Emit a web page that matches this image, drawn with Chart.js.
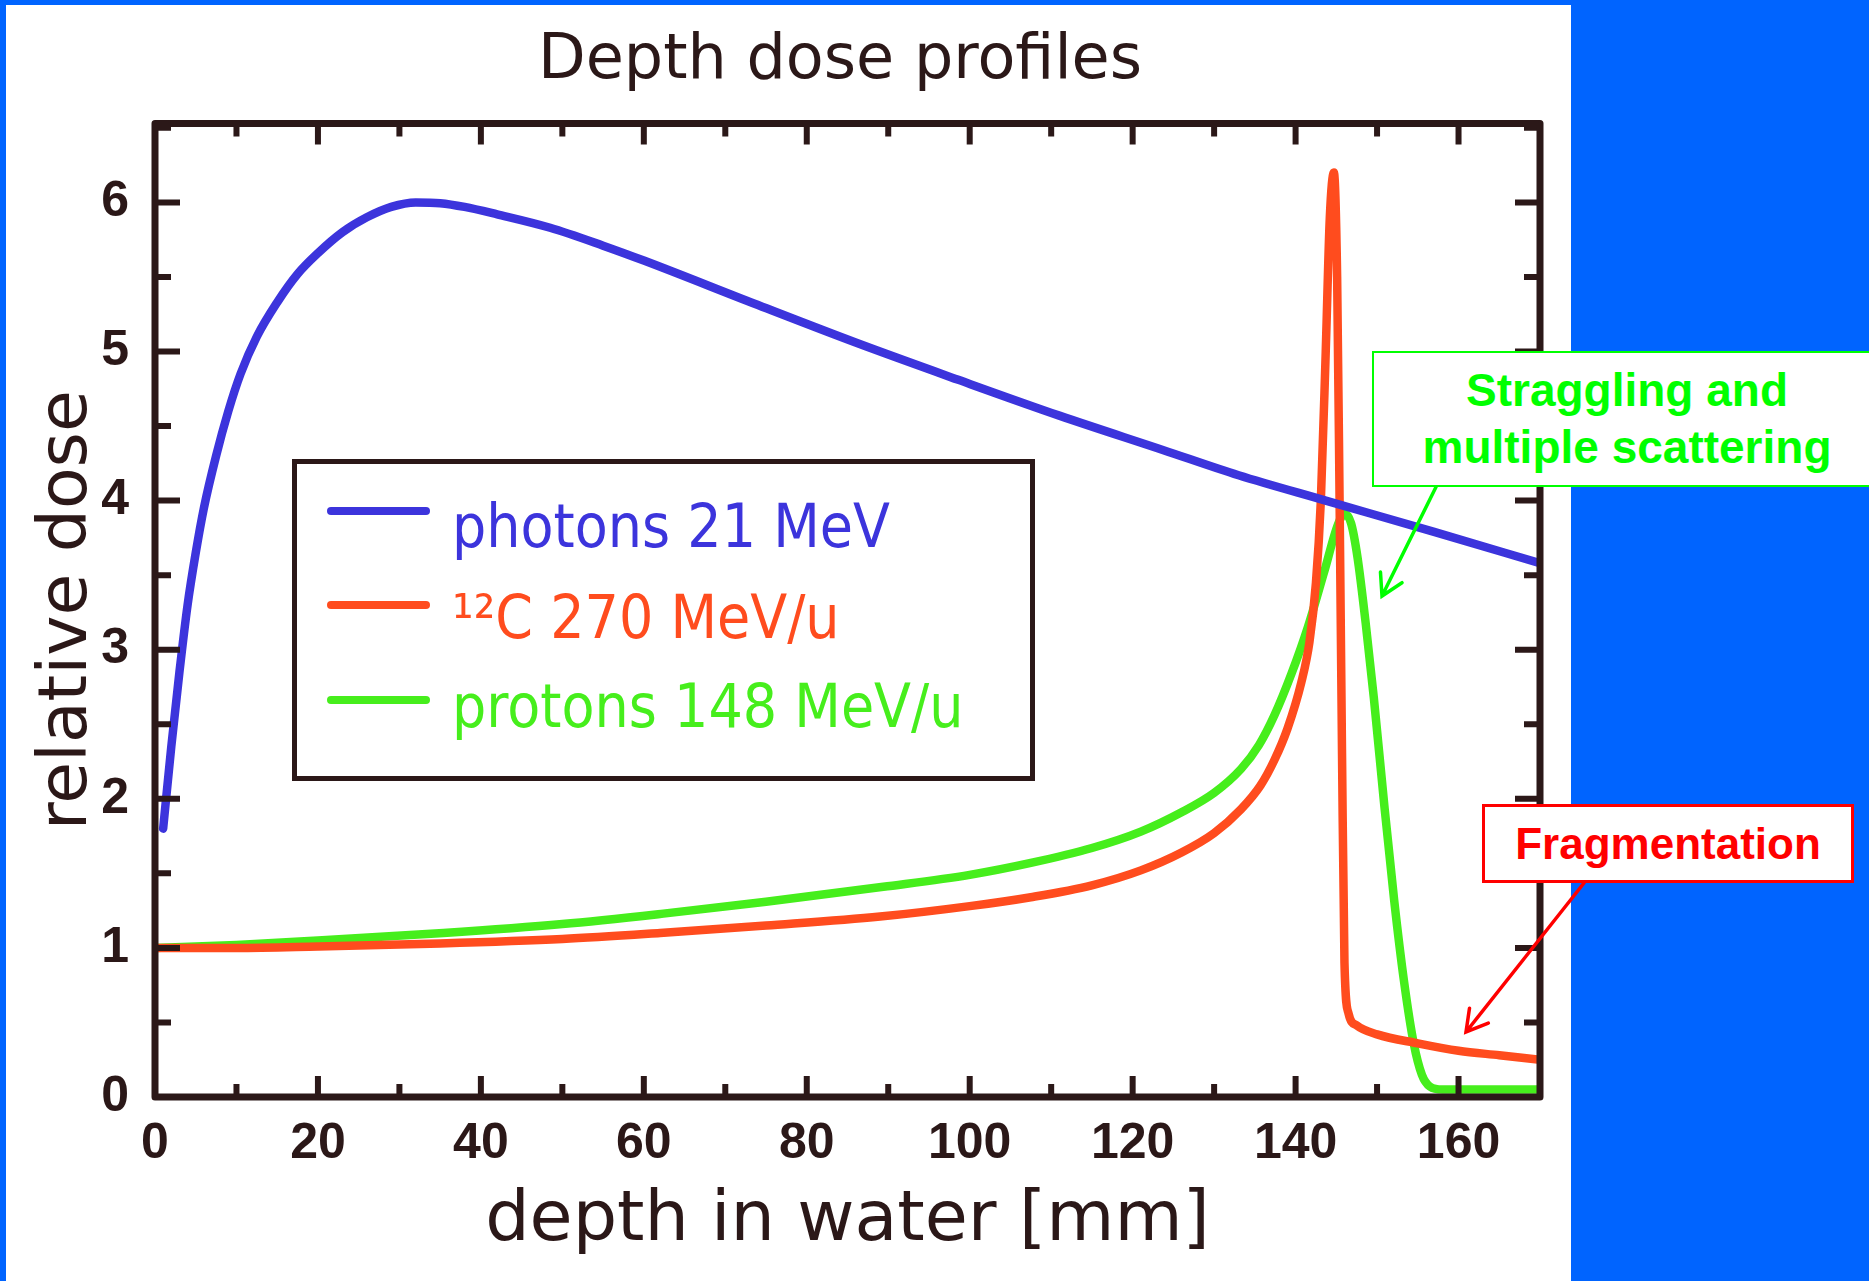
<!DOCTYPE html>
<html>
<head>
<meta charset="utf-8">
<script src="https://cdn.jsdelivr.net/npm/chart.js@4.4.1/dist/chart.umd.min.js"></script>
<style>
  html, body { margin:0; padding:0; width:1869px; height:1281px; overflow:hidden; background:#0064ff; position:relative; font-family:'DejaVu Sans', sans-serif; }
  #panel { position:absolute; left:6px; top:5px; width:1565px; height:1276px; background:#ffffff; overflow:visible; }
  #c { position:absolute; left:0; top:0; }
  #legend { position:absolute; left:292px; top:459px; width:743px; height:322px; box-sizing:border-box; border:5px solid #2b1818; background:#fff; }
  .lgline { position:absolute; height:8px; border-radius:4px; }
  .lgtext { position:absolute; font-family:'DejaVu Sans', sans-serif; font-size:60px; line-height:60px; white-space:nowrap; transform:scaleX(0.9); transform-origin:0 0; }
  .note { position:absolute; box-sizing:border-box; background:#fff; display:flex; flex-direction:column; justify-content:center; align-items:center; font-family:'Liberation Sans', Arial, sans-serif; font-weight:bold; text-align:center; white-space:nowrap; }
  #arrows { position:absolute; left:0; top:0; }
</style>
</head>
<body>
<div id="panel"><canvas id="c" width="1700" height="1276"></canvas></div>
<div id="legend"></div>
<div class="note" id="noteGreen" style="left:1372px; top:351px; width:510px; height:136px; border:2px solid #00ff00; color:#00ff00; font-size:46px; line-height:57px;"><div>Straggling and</div><div>multiple scattering</div></div>
<div class="note" id="noteRed" style="left:1482px; top:804px; width:372px; height:79px; border:3px solid #ff0000; color:#ff0000; font-size:44px; line-height:50px;"><div>Fragmentation</div></div>
<svg id="arrows" width="1869" height="1281"></svg>
<script>
// ---------------- data ----------------
const seriesNames = ['photons 21 MeV', '\u00B9\u00B2C 270 MeV/u', 'protons 148 MeV/u'];
const seriesColors = ['#3c34dc', '#ff4c1e', '#46ee1c'];

const photonDepth = [1, 2, 3, 4, 5, 6, 7.5, 9, 10.5, 12.5, 15, 17.5, 20, 23, 26, 29, 32, 35, 38, 42, 48.5, 55, 60, 73.6, 86, 98.6, 111, 123.7, 133, 143.7, 157, 170];
const photonDose  = [1.8, 2.35, 2.85, 3.3, 3.65, 3.95, 4.3, 4.6, 4.85, 5.1, 5.33, 5.52, 5.66, 5.8, 5.9, 5.97, 6.0, 5.995, 5.97, 5.92, 5.83, 5.71, 5.61, 5.32, 5.06, 4.81, 4.57, 4.34, 4.17, 4.0, 3.79, 3.58];

const carbonDepth = [0, 10, 20, 35, 50, 62, 75, 89, 100, 107.5, 115, 121, 126, 130, 133.3, 135.7, 137.4, 139, 140.7, 141.7, 142.5, 143.1, 143.7, 144.2, 144.7, 145.1, 145.4, 145.7, 146.0, 146.5, 147.5, 150, 155, 160, 165, 170];
const carbonDose  = [1.0, 1.0, 1.01, 1.03, 1.06, 1.10, 1.15, 1.21, 1.28, 1.34, 1.42, 1.52, 1.64, 1.77, 1.93, 2.09, 2.26, 2.47, 2.78, 3.05, 3.45, 4.0, 5.0, 5.9, 6.2, 5.5, 4.0, 2.3, 0.9, 0.56, 0.48, 0.42, 0.36, 0.31, 0.28, 0.25];

const protonDepth = [0, 10, 20, 35.4, 50, 62.4, 75, 89.4, 100, 107.5, 115, 121, 126, 130, 133.3, 135.5, 137.4, 139.5, 141.5, 143.5, 145.2, 146.0, 146.8, 147.6, 148.6, 149.6, 150.9, 152.1, 153.3, 154.5, 155.5, 156.5, 158, 162, 170];
const protonDose  = [1.0, 1.02, 1.05, 1.10, 1.16, 1.23, 1.31, 1.41, 1.49, 1.57, 1.67, 1.78, 1.91, 2.04, 2.2, 2.36, 2.56, 2.84, 3.15, 3.52, 3.84, 3.91, 3.85, 3.62, 3.18, 2.68, 1.95, 1.32, 0.78, 0.36, 0.15, 0.07, 0.05, 0.05, 0.05];

const xTickLabels = [0, 20, 40, 60, 80, 100, 120, 140, 160];
const yTickLabels = [0, 1, 2, 3, 4, 5, 6];

const titleText = 'Depth dose profiles';
const xTitle = 'depth in water [mm]';
const yTitle = 'relative dose';

// ---------------- chart ----------------
const FRAME = '#2b1818';
const toPts = (xs, ys) => xs.map((v, i) => ({ x: v, y: ys[i] }));

const framePlugin = {
  id: 'frame',
  afterDatasetsDraw(chart) {
    const { ctx, chartArea: a, scales: { x, y } } = chart;
    ctx.save();
    ctx.strokeStyle = FRAME;
    ctx.lineCap = 'butt';
    ctx.lineWidth = 6;
    for (let v = x.min; v <= x.max + 1e-9; v += 10) {
      const px = x.getPixelForValue(v);
      const len = (Math.round(v) % 20 === 0) ? 21 : 13;
      ctx.beginPath();
      ctx.moveTo(px, a.bottom); ctx.lineTo(px, a.bottom - len);
      ctx.moveTo(px, a.top); ctx.lineTo(px, a.top + len);
      ctx.stroke();
    }
    for (let v = y.min; v <= y.max + 1e-9; v += 0.5) {
      const py = y.getPixelForValue(v);
      const len = (Math.abs(v - Math.round(v)) < 1e-6) ? 25 : 16;
      ctx.beginPath();
      ctx.moveTo(a.left, py); ctx.lineTo(a.left + len, py);
      ctx.moveTo(a.right, py); ctx.lineTo(a.right - len, py);
      ctx.stroke();
    }
    ctx.lineWidth = 7;
    ctx.lineJoin = 'round';
    ctx.strokeRect(a.left, a.top, a.right - a.left, a.bottom - a.top);
    ctx.restore();
  }
};

const tickFont = { family: "'Liberation Sans', Arial, sans-serif", size: 50, weight: 'bold' };
const Y_MAX = 6.53;

new Chart(document.getElementById('c'), {
  type: 'line',
  data: {
    datasets: [
      { label: seriesNames[0], data: toPts(photonDepth, photonDose), borderColor: seriesColors[0] },
      { label: seriesNames[1], data: toPts(carbonDepth, carbonDose), borderColor: seriesColors[1] },
      { label: seriesNames[2], data: toPts(protonDepth, protonDose), borderColor: seriesColors[2] }
    ].map(d => Object.assign(d, { borderWidth: 8.5, pointRadius: 0, cubicInterpolationMode: 'monotone', borderJoinStyle: 'round', borderCapStyle: 'round', fill: false, yAxisID: 'y' }))
  },
  options: {
    responsive: false,
    animation: false,
    devicePixelRatio: 1,
    layout: { padding: { left: 0, right: 32, top: 0, bottom: 0 } },
    plugins: {
      legend: { display: false },
      tooltip: { enabled: false },
      title: {
        display: true, text: titleText, color: FRAME,
        font: { family: "'DejaVu Sans',sans-serif", size: 62, weight: 'normal', lineHeight: 1.2 },
        padding: { top: 20, bottom: 24 }
      }
    },
    scales: {
      x: {
        type: 'linear', min: 0, max: 170,
        afterFit(s) { s.height = 184; },
        afterBuildTicks(s) { s.ticks = xTickLabels.map(v => ({ value: v })); },
        grid: { display: false, drawTicks: false },
        border: { display: false },
        ticks: { color: FRAME, font: tickFont, padding: 17, maxRotation: 0, autoSkip: false },
        title: { display: true, text: xTitle, color: FRAME, font: { family: "'DejaVu Sans',sans-serif", size: 70, lineHeight: 1.2 }, padding: { top: 0, bottom: 17 } }
      },
      y: {
        type: 'linear', min: 0, max: Y_MAX, position: 'left',
        afterFit(s) { s.width = 149; },
        afterBuildTicks(s) { s.ticks = yTickLabels.map(v => ({ value: v })); },
        grid: { display: false, drawTicks: false },
        border: { display: false },
        ticks: { color: FRAME, font: tickFont, padding: 26, autoSkip: false },
        title: { display: true, text: yTitle, color: FRAME, font: { family: "'DejaVu Sans',sans-serif", size: 68, lineHeight: 1.2 }, padding: { top: 22, bottom: 0 } }
      },
      yRight: {
        type: 'linear', position: 'right', min: 0, max: Y_MAX,
        afterFit(s) { s.width = 134; },
        grid: { display: false, drawTicks: false },
        border: { display: false },
        ticks: { display: false }
      }
    }
  },
  plugins: [framePlugin]
});

// ---------------- legend (HTML) ----------------
const legend = document.getElementById('legend');
const rowLineY = [511, 605, 700];
const rowBaseline = [547, 638, 727];
seriesNames.forEach((name, i) => {
  const ln = document.createElement('div');
  ln.className = 'lgline';
  ln.style.left = (327 - 292 - 5) + 'px';
  ln.style.top = (rowLineY[i] - 4 - 459 - 5) + 'px';
  ln.style.width = '103px';
  ln.style.background = seriesColors[i];
  legend.appendChild(ln);
  const tx = document.createElement('div');
  tx.className = 'lgtext';
  tx.style.left = (452 - 292 - 5) + 'px';
  tx.style.top = (rowBaseline[i] - 51 - 459 - 5) + 'px';
  tx.style.color = seriesColors[i];
  tx.textContent = name;
  legend.appendChild(tx);
});

// ---------------- arrows ----------------
const svg = document.getElementById('arrows');
function arrow(x1, y1, x2, y2, color) {
  const ns = 'http://www.w3.org/2000/svg';
  const dx = x2 - x1, dy = y2 - y1, L = Math.hypot(dx, dy);
  const ux = dx / L, uy = dy / L, len = 24, ang = Math.PI / 6;
  const w = (s) => {
    const c = Math.cos(s * ang), sn = Math.sin(s * ang);
    const rx = -(ux * c - uy * sn), ry = -(ux * sn + uy * c);
    return [x2 + rx * len, y2 + ry * len];
  };
  const [ax, ay] = w(1), [bx, by] = w(-1);
  const p = document.createElementNS(ns, 'path');
  p.setAttribute('d', `M${x1},${y1} L${x2},${y2} M${ax},${ay} L${x2},${y2} L${bx},${by}`);
  p.setAttribute('stroke', color); p.setAttribute('stroke-width', '3.5'); p.setAttribute('fill', 'none');
  p.setAttribute('stroke-linecap', 'round'); p.setAttribute('stroke-linejoin', 'miter');
  svg.appendChild(p);
}
arrow(1436, 487, 1382, 596, '#00ff00');
arrow(1584, 883, 1466, 1032, '#ff0000');
</script>
</body>
</html>
